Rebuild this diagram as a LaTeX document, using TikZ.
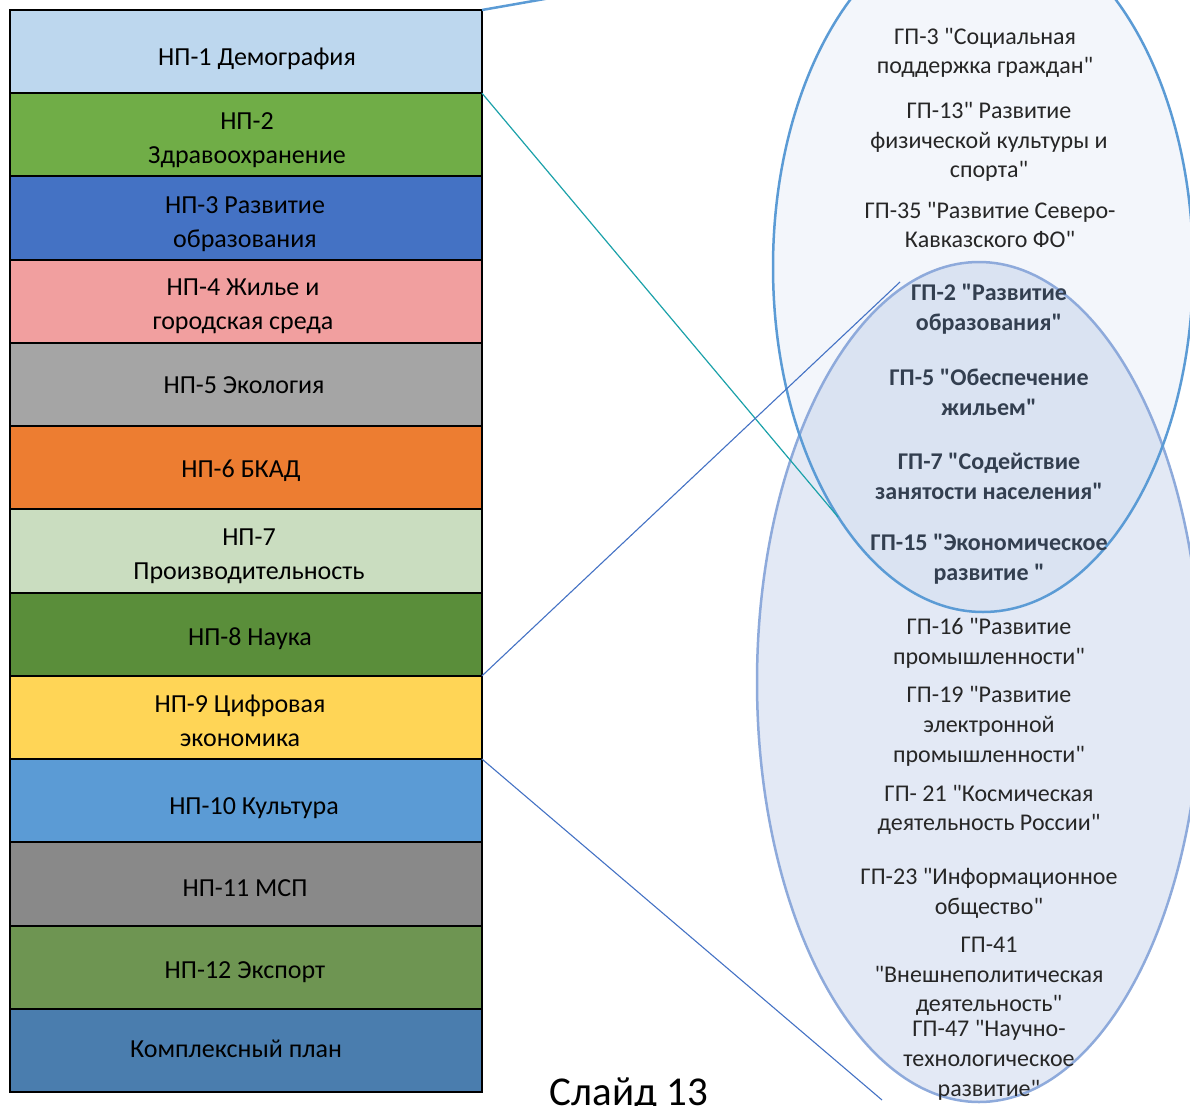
\documentclass[tikz,border=0pt]{standalone}
\usepackage{fontspec}
\setmainfont{Carlito}[Ligatures=TeXOff]
\usetikzlibrary{shapes.geometric}
\definecolor{cNPa}{HTML}{BDD7EE}
\definecolor{cNPb}{HTML}{70AD47}
\definecolor{cNPc}{HTML}{4472C4}
\definecolor{cNPd}{HTML}{F19F9F}
\definecolor{cNPe}{HTML}{A5A5A5}
\definecolor{cNPf}{HTML}{ED7D31}
\definecolor{cNPg}{HTML}{CADDC0}
\definecolor{cNPh}{HTML}{5A8E3A}
\definecolor{cNPi}{HTML}{FFD556}
\definecolor{cNPj}{HTML}{5B9BD5}
\definecolor{cNPk}{HTML}{898989}
\definecolor{cNPl}{HTML}{6E9552}
\definecolor{cNPm}{HTML}{4A7DAE}
\definecolor{upfill}{HTML}{F3F6FB}
\definecolor{lofill}{HTML}{E3E9F5}
\definecolor{midfill}{HTML}{DAE3F2}
\definecolor{upstroke}{HTML}{5B9BD5}
\definecolor{lostroke}{HTML}{8EAADB}
\definecolor{tealline}{HTML}{1BA1A9}
\definecolor{blueline}{HTML}{4472C4}
\definecolor{gptextc}{HTML}{262626}
\definecolor{gpboldc}{HTML}{333F50}
\begin{document}
\begin{tikzpicture}[x=1pt,y=-1pt,
  npbox/.style={draw=black, line width=2pt, minimum width=472pt, minimum height=83.23pt, inner sep=0pt, outer sep=0pt, anchor=north west},
  nptext/.style={font=\fontsize{26}{34}\selectfont, align=center, text=black, inner sep=0pt},
  gptext/.style={font=\fontsize{24}{29.7}\selectfont, align=center, text=gptextc, inner sep=0pt},
  gpbold/.style={font=\fontsize{24}{29.7}\selectfont\bfseries, align=center, text=gpboldc, inner sep=0pt},
  ellbox/.style={ellipse, line width=2.5pt, inner sep=0pt, outer sep=0pt},
  callthick/.style={draw=upstroke, line width=2.5pt},
  callteal/.style={draw=tealline, line width=1.2pt},
  callblue/.style={draw=blueline, line width=1.1pt}]
\useasboundingbox (0,0) rectangle (1190,1105);
\clip (0,0) rectangle (1190,1105);
% ellipse fills
\fill[upfill] (983,267) ellipse [x radius=210pt, y radius=345pt];
\fill[lofill] (979,682) ellipse [x radius=222pt, y radius=420pt];
\begin{scope}
  \clip (983,267) ellipse [x radius=210pt, y radius=345pt];
  \fill[midfill] (979,682) ellipse [x radius=222pt, y radius=420pt];
\end{scope}
% ellipse outlines
\node[ellbox, draw=lostroke, minimum width=444pt, minimum height=840pt] (lo) at (979,682) {};
\node[ellbox, draw=upstroke, minimum width=420pt, minimum height=690pt] (up) at (983,267) {};
% boxes
\node[npbox, fill=cNPa] (n1) at (10,10) {};
\node[npbox, fill=cNPb] (n2) at (10,93.23) {};
\node[npbox, fill=cNPc] (n3) at (10,176.46) {};
\node[npbox, fill=cNPd] (n4) at (10,259.69) {};
\node[npbox, fill=cNPe] (n5) at (10,342.92) {};
\node[npbox, fill=cNPf] (n6) at (10,426.15) {};
\node[npbox, fill=cNPg] (n7) at (10,509.38) {};
\node[npbox, fill=cNPh] (n8) at (10,592.61) {};
\node[npbox, fill=cNPi] (n9) at (10,675.84) {};
\node[npbox, fill=cNPj] (n10) at (10,759.07) {};
\node[npbox, fill=cNPk] (n11) at (10,842.30) {};
\node[npbox, fill=cNPl] (n12) at (10,925.53) {};
\node[npbox, fill=cNPm] (n13) at (10,1008.76) {};
% box labels
\node[nptext] (t1) at (257,59) {НП-1 Демография};
\node[nptext] (t2) at (247,140) {НП-2\\Здравоохранение};
\node[nptext] (t3) at (245,224) {НП-3 Развитие\\образования};
\node[nptext] (t4) at (243,306) {НП-4 Жилье и\\городская среда};
\node[nptext] (t5) at (244,385) {НП-5 Экология};
\node[nptext] (t6) at (241,471) {НП-6 БКАД};
\node[nptext] (t7) at (249,556) {НП-7\\Производительность};
\node[nptext] (t8) at (250,639) {НП-8 Наука};
\node[nptext] (t9) at (240,721) {НП-9 Цифровая\\экономика};
\node[nptext] (t10) at (254,808) {НП-10 Культура};
\node[nptext] (t11) at (245,888) {НП-11 МСП};
\node[nptext] (t12) at (245,972) {НП-12 Экспорт};
\node[nptext] (t13) at (236,1049) {Комплексный план};
% ellipse texts
\node[gptext] (g3) at (985,53) {ГП-3 "Социальная\\поддержка граждан"};
\node[gptext] (g13) at (989,142) {ГП-13" Развитие\\физической культуры и\\спорта"};
\node[gptext] (g35) at (990,225) {ГП-35 "Развитие Северо-\\Кавказского ФО"};
\node[gpbold] (g2) at (989,309) {ГП-2 "Развитие\\образования"};
\node[gpbold] (g5) at (989,392.5) {ГП-5 "Обеспечение\\жильем"};
\node[gpbold] (g7) at (989,476.5) {ГП-7 "Содействие\\занятости населения"};
\node[gpbold] (g15) at (989,559.5) {ГП-15 "Экономическое\\развитие "};
\node[gptext] (g16) at (989,643) {ГП-16 "Развитие\\промышленности"};
\node[gptext] (g19) at (989,726.5) {ГП-19 "Развитие\\электронной\\промышленности"};
\node[gptext] (g21) at (989,810) {ГП- 21 "Космическая\\деятельность России"};
\node[gptext] (g23) at (989,893.5) {ГП-23 "Информационное\\общество"};
\node[gptext] (g41) at (989,976.5) {ГП-41\\"Внешнеполитическая\\деятельность"};
\node[gptext] (g47) at (989,1060.5) {ГП-47 "Научно-\\технологическое\\развитие"};
% title
\node[font=\fontsize{41}{49}\selectfont, text=black, inner sep=0pt, anchor=base] (title) at (629,1105) {Слайд 13};
% callout lines
\coordinate (tealend) at (838,517);
\coordinate (l3end) at (900,282);
\coordinate (l4end) at (882,1100);
\draw[callthick] (n1.north east) -- (up.north);
\draw[callteal] (n1.south east) -- (tealend);
\draw[callblue] (n8.south east) -- (l3end);
\draw[callblue] (n9.south east) -- (l4end);
\end{tikzpicture}
\end{document}
